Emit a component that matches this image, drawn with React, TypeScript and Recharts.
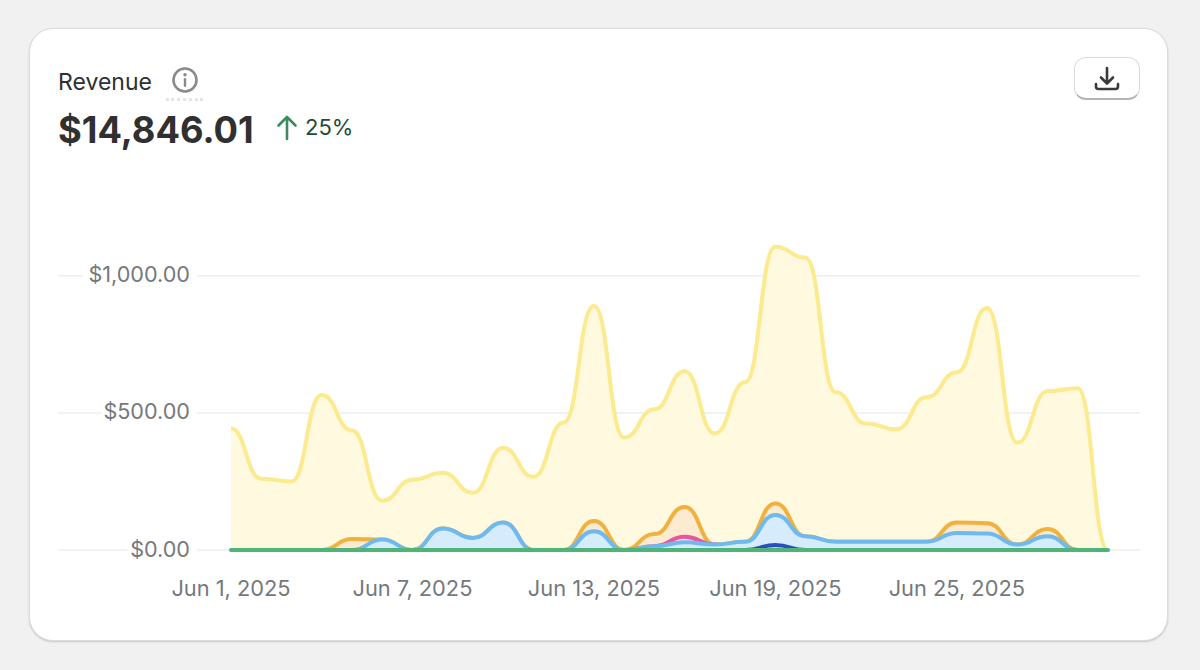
import React from "react";
import { ComposedChart, Area, Line, XAxis, YAxis, CartesianGrid } from "recharts";

const days = ["Jun 1, 2025","Jun 2, 2025","Jun 3, 2025","Jun 4, 2025","Jun 5, 2025","Jun 6, 2025","Jun 7, 2025","Jun 8, 2025","Jun 9, 2025","Jun 10, 2025","Jun 11, 2025","Jun 12, 2025","Jun 13, 2025","Jun 14, 2025","Jun 15, 2025","Jun 16, 2025","Jun 17, 2025","Jun 18, 2025","Jun 19, 2025","Jun 20, 2025","Jun 21, 2025","Jun 22, 2025","Jun 23, 2025","Jun 24, 2025","Jun 25, 2025","Jun 26, 2025","Jun 27, 2025","Jun 28, 2025","Jun 29, 2025","Jun 30, 2025"];
const yellow = [443,260,250,565,436,180,256,282,209,373,267,465,890,410,513,652,425,612,1106,1066,575,461,440,557,648,883,392,579,590,0];
const orange = [0,0,0,0,40,38,0,78,44,100,0,0,106,0,58,157,20,30,170,50,30,30,30,30,100,98,20,77,0,0];
const pink = [0,0,0,0,0,0,0,0,0,0,0,0,0,0,14,48,20,0,0,0,0,0,0,0,0,0,0,0,0,0];
const blue = [0,0,0,0,0,38,0,78,44,100,0,0,68,0,14,28,20,30,128,50,30,30,30,30,62,60,20,50,0,0];
const navy = [0,0,0,0,0,0,0,0,0,0,0,0,0,0,0,0,0,0,18,0,0,0,0,0,0,0,0,0,0,0];
const green = days.map(() => 0);
const xTicks = ["Jun 1, 2025","Jun 7, 2025","Jun 13, 2025","Jun 19, 2025","Jun 25, 2025"];
const yTicks = [0,500,1000];
const yLabels = ["$0.00","$500.00","$1,000.00"];

const rows = days.map((day, i) => ({ day, yellow: yellow[i], orange: orange[i], pink: pink[i], blue: blue[i], navy: navy[i], green: green[i] }));
const FONT = "Inter, 'Liberation Sans', sans-serif";

const YTick = (p: any) => {
  const label = yLabels[yTicks.indexOf(p.payload.value)];
  const punct = label.replace(/[^.,]/g, "").length;
  const w = (label.length - punct) * 12.9 + punct * 6;
  return (
    <g>
      <rect x={190 - w - 5} y={p.y - 13} width={w + 12} height={26} fill="#fff" />
      <text x={190} y={p.y + 6.5} textAnchor="end" fontSize={21.6} fontFamily={FONT} fill="#74787d">{label}</text>
    </g>
  );
};

export default function App() {
  return (
    <div style={{ position: "fixed", left: 0, top: 0, width: 1200, height: 670, background: "#f1f1f1", overflow: "hidden", fontFamily: FONT }}>
      <div style={{ position: "absolute", left: 29, top: 28, width: 1139, height: 613, boxSizing: "border-box", background: "#fff", borderRadius: 24, border: "1px solid #dcdcdc", boxShadow: "0 1px 2px rgba(0,0,0,0.18)" }} />
      <div style={{ position: "absolute", left: 58, top: 68, fontSize: 23, color: "#303030" }}>Revenue</div>
      <svg style={{ position: "absolute", left: 171, top: 66 }} width={28} height={28} viewBox="0 0 28 28">
        <circle cx={14} cy={14} r={11.5} fill="none" stroke="#8a8a8a" strokeWidth={2.6} />
        <circle cx={14} cy={8.8} r={1.7} fill="#8a8a8a" />
        <rect x={12.8} y={12} width={2.4} height={9} rx={1.2} fill="#8a8a8a" />
      </svg>
      <div style={{ position: "absolute", left: 166, top: 98, width: 37, borderTop: "3px dotted #e4e4e4" }} />
      <div style={{ position: "absolute", left: 58, top: 106, fontSize: 36.3, fontWeight: 700, color: "#303030", lineHeight: "48px" }}>$14,846.01</div>
      <svg style={{ position: "absolute", left: 275, top: 114 }} width={24} height={28} viewBox="0 0 24 28">
        <path d="M12 25V3M3.5 11.5L12 3l8.5 8.5" fill="none" stroke="#3d8a5f" strokeWidth={2.6} strokeLinecap="round" strokeLinejoin="round" />
      </svg>
      <div style={{ position: "absolute", left: 305, top: 114, fontSize: 22, color: "#1f4d38" }}>25%</div>
      <div style={{ position: "absolute", left: 1074, top: 57, width: 66, height: 43, boxSizing: "border-box", background: "#fff", borderRadius: 12, border: "1px solid #dadada", borderBottom: "2px solid #b5b5b5" }}>
        <svg style={{ position: "absolute", left: 18, top: 7 }} width={28} height={28} viewBox="0 0 28 28">
          <path d="M14 3v15M8 12.5l6 6 6-6M3 19v2.5a2.5 2.5 0 0 0 2.5 2.5h17a2.5 2.5 0 0 0 2.5-2.5V19" fill="none" stroke="#3a3a3a" strokeWidth={2.6} strokeLinecap="round" strokeLinejoin="round" />
        </svg>
      </div>
      <div style={{ position: "absolute", left: 0, top: 0 }}>
        <ComposedChart width={1200} height={620} data={rows} margin={{ top: 221, right: 60, bottom: 0, left: 57 }}>
          <CartesianGrid vertical={false} stroke="#eeeeee" strokeWidth={1.5} syncWithTicks horizontalValues={yTicks} />
          <XAxis dataKey="day" ticks={xTicks} interval={0} padding={{ left: 173, right: 32 }} axisLine={false} tickLine={false} height={70} tickMargin={25} tick={{ fontSize: 21.8, fontFamily: FONT, fill: "#74787d" }} />
          <YAxis domain={[0, 1200]} ticks={yTicks} width={1} axisLine={false} tickLine={false} tick={YTick} />
          <Area type="bumpX" dataKey="yellow" stroke="#fcea8e" strokeWidth={4} fill="#fef9df" fillOpacity={1} isAnimationActive={false} dot={false} activeDot={false} />
          <Area type="bumpX" dataKey="orange" stroke="#f0b13f" strokeWidth={4} fill="#fcebd0" fillOpacity={1} isAnimationActive={false} dot={false} activeDot={false} />
          <Area type="bumpX" dataKey="pink" stroke="#e8559a" strokeWidth={4} fill="#fcdfdd" fillOpacity={1} isAnimationActive={false} dot={false} activeDot={false} />
          <Area type="bumpX" dataKey="blue" stroke="#6fb9f1" strokeWidth={4} fill="#d6ecfd" fillOpacity={1} isAnimationActive={false} dot={false} activeDot={false} />
          <Area type="bumpX" dataKey="navy" stroke="#2a4fbf" strokeWidth={4} fill="#c5d3f5" fillOpacity={1} isAnimationActive={false} dot={false} activeDot={false} />
          <Line type="bumpX" dataKey="green" stroke="#4fb477" strokeWidth={4} strokeLinecap="round" dot={false} activeDot={false} isAnimationActive={false} />
        </ComposedChart>
      </div>
    </div>
  );
}
